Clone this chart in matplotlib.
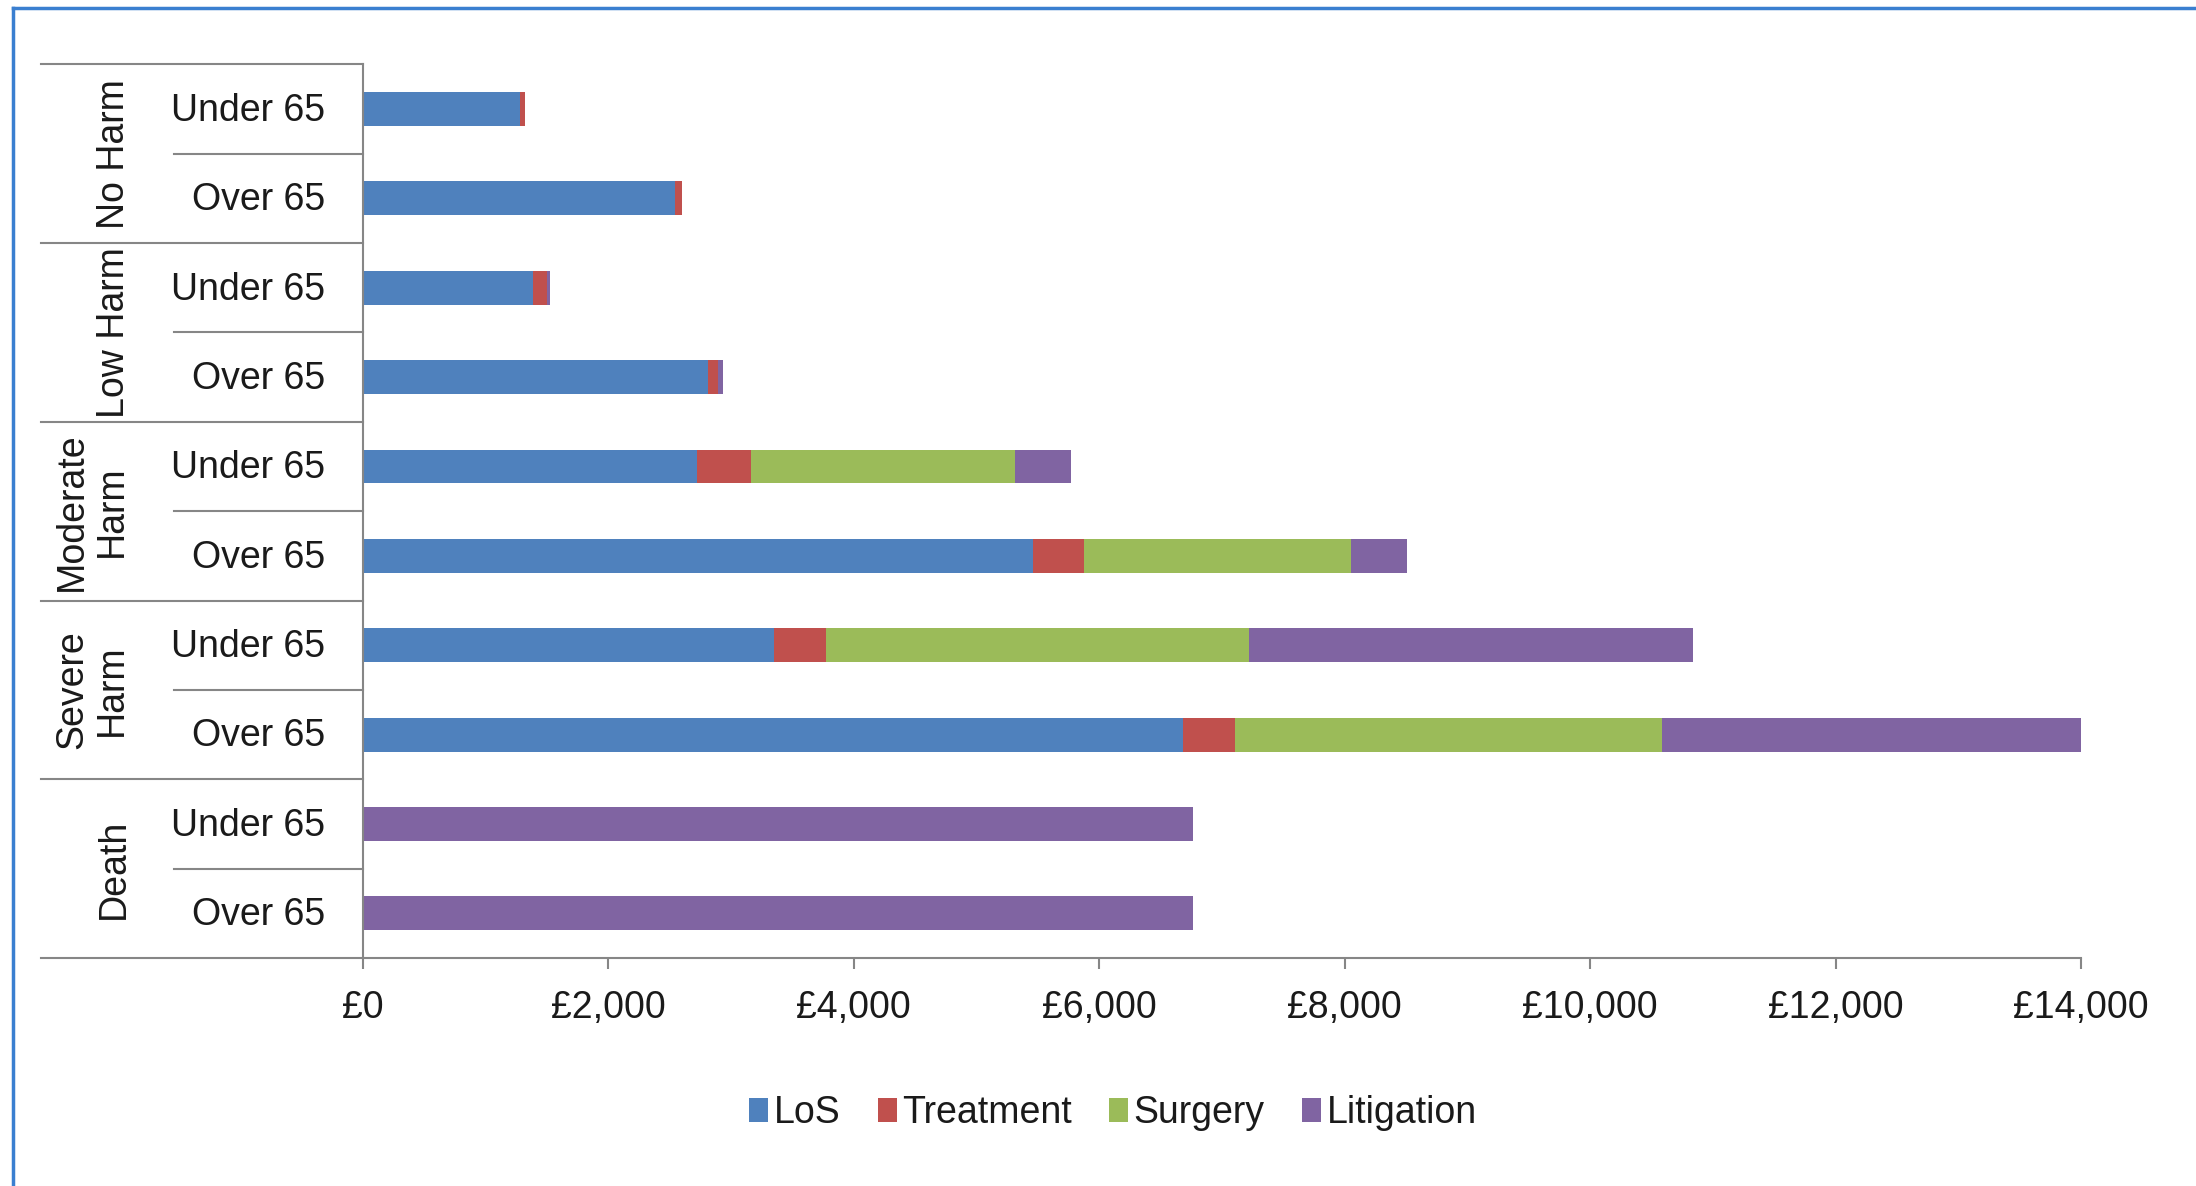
import matplotlib
matplotlib.use('Agg')
import matplotlib.pyplot as plt
from matplotlib.transforms import blended_transform_factory
from matplotlib.ticker import FuncFormatter, MultipleLocator

plt.rcParams['font.family'] = ['Liberation Sans Narrow', 'Liberation Sans', 'DejaVu Sans']

# --- data (rows top to bottom) ---
groups = ['No Harm', 'Low Harm', 'Moderate\nHarm', 'Severe\nHarm', 'Death']
ages = ['Under 65', 'Over 65']
series = ['LoS', 'Treatment', 'Surgery', 'Litigation']
los = [1283, 2546, 1391, 2812, 2727, 5461, 3352, 6684, 0, 0]
treatment = [40, 53, 109, 86, 440, 419, 420, 424, 0, 0]
surgery = [0, 0, 0, 0, 2148, 2170, 3446, 3481, 0, 0]
litigation = [0, 0, 27, 36, 456, 460, 3624, 3415, 6762, 6762]
x_ticks = [0, 2000, 4000, 6000, 8000, 10000, 12000, 14000]

colors = ['#4F81BD', '#C0504D', '#9BBB59', '#8064A2']
grey = '#868686'
text_c = '#1a1a1a'
W, H = 2196, 1186

fig = plt.figure(figsize=(W / 100, H / 100), dpi=100)
ax = fig.add_axes([362.7 / W, 1 - 958 / H, (2081 - 362.7) / W, (958 - 64.4) / H])

rows = list(range(len(los)))
left = [0] * len(los)
for name, vals, c in zip(series, [los, treatment, surgery, litigation], colors):
    ax.barh(rows, vals, left=left, height=0.38, color=c, label=name,
            edgecolor='none')
    left = [a + b for a, b in zip(left, vals)]

ax.set_xlim(x_ticks[0], x_ticks[-1])
ax.set_ylim(9.5, -0.5)
ax.set_xticks(x_ticks)
ax.xaxis.set_major_formatter(FuncFormatter(lambda v, p: f'£{int(v):,}'))
ax.tick_params(axis='x', direction='out', length=8, width=1.5, color=grey,
               labelsize=27, labelcolor=text_c, pad=15)
ax.set_yticks([])
for s in ['top', 'right']:
    ax.spines[s].set_visible(False)
for s in ['left', 'bottom']:
    ax.spines[s].set_color(grey)
    ax.spines[s].set_linewidth(1.5)

# category axis drawn by hand
tr = blended_transform_factory(fig.transFigure, ax.transData)
x_outer = 40.6 / W
x_inner = 173.7 / W
x_axis = 362.7 / W
lk = dict(color=grey, lw=1.5, transform=tr, clip_on=False)
ax.plot([x_outer, x_axis], [-0.5, -0.5], **lk)
ax.plot([x_outer, x_axis], [9.5, 9.5], **lk)
for i in range(len(groups) - 1):
    yb = 2 * i + 1.5
    ax.plot([x_outer, x_axis], [yb, yb], **lk)
for i in range(len(groups)):
    yb = 2 * i + 0.5
    ax.plot([x_inner, x_axis], [yb, yb], **lk)

for r in rows:
    ax.text(325 / W, r + 0.02, ages[r % 2], transform=tr, ha='right', va='center',
            fontsize=27, color=text_c)

for i, g in enumerate(groups):
    xg = 114 / W if '\n' not in g else 92 / W
    ax.text(xg, 2 * i + 0.5, g, transform=tr, rotation=90, ha='center',
            va='center', fontsize=27, color=text_c, linespacing=1.15,
            multialignment='center')

leg = fig.legend(loc='center', bbox_to_anchor=(1113 / W, 1 - 1113 / H), ncol=4,
                 frameon=False, fontsize=27, handlelength=0.5, handleheight=0.6,
                 handletextpad=0.15, columnspacing=1.0, labelcolor=text_c)

# blue frame round the picture (right and bottom run off the image)
fig.add_artist(plt.Line2D([13 / W, 13 / W], [0, 1 - 8 / H], color='#3A7FD0', lw=2.5,
                          transform=fig.transFigure))
fig.add_artist(plt.Line2D([13 / W, 1], [1 - 8 / H, 1 - 8 / H], color='#3A7FD0', lw=2.5,
                          transform=fig.transFigure))

fig.savefig('out.png', dpi=100)
